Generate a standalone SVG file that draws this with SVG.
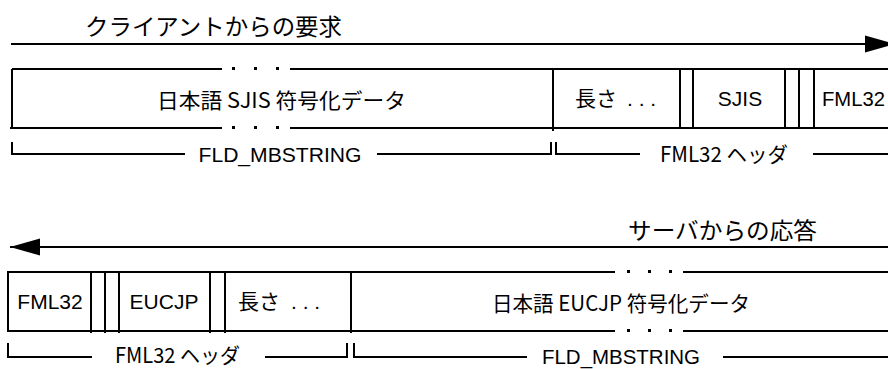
<svg xmlns="http://www.w3.org/2000/svg" width="888" height="369" viewBox="0 0 888 369">
<style>
.ln{stroke:#000;stroke-width:2;fill:none}
.dot{fill:#000}
.tt{font-family:"Noto Sans CJK JP",sans-serif;font-size:23px;fill:#000}
.a{font-family:"Liberation Sans","Noto Sans CJK JP",sans-serif;font-size:21px;fill:#000}
.j{font-family:"Noto Sans CJK JP",sans-serif;font-size:21px;fill:#000}
</style>
<defs>
<marker id="arr" markerUnits="userSpaceOnUse" markerWidth="30" markerHeight="18" refX="30" refY="9" orient="auto">
<path d="M0,0.5 L30,9 L0,17.5 z" fill="#000"/>
</marker>
</defs>

<g id="connectors">
<line class="ln" x1="11" y1="44" x2="895" y2="44" marker-end="url(#arr)"/>
<line class="ln" x1="888" y1="247" x2="10" y2="247" marker-end="url(#arr)"/>
</g>

<g id="title-request">
<text class="tt" x="85" y="35" textLength="257" lengthAdjust="spacingAndGlyphs">クライアントからの要求</text>
</g>
<g id="title-response">
<text class="tt" x="628" y="239" textLength="189" lengthAdjust="spacingAndGlyphs">サーバからの応答</text>
</g>

<g id="req-data">
<path class="ln" d="M10,128 H222 M290,128 H553 M12,69 H222 M290,69 H553 M12,69 V128"/>
<rect class="dot" x="232" y="67" width="3" height="3"/>
<rect class="dot" x="254" y="67" width="3" height="3"/>
<rect class="dot" x="276" y="67" width="3" height="3"/>
<rect class="dot" x="232" y="126" width="3" height="3"/>
<rect class="dot" x="254" y="126" width="3" height="3"/>
<rect class="dot" x="276" y="126" width="3" height="3"/>
<text class="j" x="157" y="108" textLength="249" lengthAdjust="spacingAndGlyphs">日本語 SJIS 符号化データ</text>
</g>
<g id="req-length">
<path class="ln" d="M553,69 V131 M553,69 H680 M553,128 H680"/>
<text class="a" x="575" y="106">長さ<tspan x="627">. . .</tspan></text>
</g>
<g id="req-sjis">
<path class="ln" d="M680,69 V129 M693,69 V129 M680,69 H785 M680,128 H785"/>
<text class="a" x="740" y="106" text-anchor="middle">SJIS</text>
</g>
<g id="req-fml32">
<path class="ln" d="M785,69 V129 M799,69 V129 M814,69 V129 M785,69 H888 M785,128 H888"/>
<text class="a" x="822" y="106" textLength="63" lengthAdjust="spacingAndGlyphs">FML32</text>
</g>
<g id="req-bracket-mbstring">
<path class="ln" d="M12,142 V154 H185 M377,154 H551 V142"/>
<text class="a" x="280" y="162" text-anchor="middle" textLength="163" lengthAdjust="spacingAndGlyphs">FLD_MBSTRING</text>
</g>
<g id="req-bracket-header">
<path class="ln" d="M556,142 V154 H640 M813,154 H888"/>
<text class="j" x="660" y="162" textLength="128" lengthAdjust="spacingAndGlyphs">FML32 ヘッダ</text>
</g>

<g id="res-fml32">
<path class="ln" d="M8,272 V331 M7,272 H91 M7,331 H91 M91,272 V333"/>
<text class="a" x="50" y="309" text-anchor="middle">FML32</text>
</g>
<g id="res-eucjp">
<path class="ln" d="M105,272 V333 M119,272 V333 M91,272 H210 M91,331 H210 M210,272 V333"/>
<text class="a" x="164" y="309" text-anchor="middle">EUCJP</text>
</g>
<g id="res-length">
<path class="ln" d="M225,272 V333 M210,272 H351 M210,331 H351 M351,272 V333"/>
<text class="a" x="238" y="309">長さ<tspan x="291">. . .</tspan></text>
</g>
<g id="res-data">
<path class="ln" d="M351,272 H615 M683,272 H888 M351,331 H615 M683,331 H888"/>
<rect class="dot" x="627" y="270" width="3" height="3"/>
<rect class="dot" x="648" y="270" width="3" height="3"/>
<rect class="dot" x="669" y="270" width="3" height="3"/>
<rect class="dot" x="627" y="329" width="3" height="3"/>
<rect class="dot" x="648" y="329" width="3" height="3"/>
<rect class="dot" x="669" y="329" width="3" height="3"/>
<text class="j" x="492" y="311" textLength="258" lengthAdjust="spacingAndGlyphs">日本語 EUCJP 符号化データ</text>
</g>
<g id="res-bracket-header">
<path class="ln" d="M8,343 V357 H92 M265,357 H347 V343"/>
<text class="j" x="115" y="363" textLength="125" lengthAdjust="spacingAndGlyphs">FML32 ヘッダ</text>
</g>
<g id="res-bracket-mbstring">
<path class="ln" d="M354,343 V357 H527 M723,357 H888"/>
<text class="a" x="621" y="364" text-anchor="middle" textLength="158" lengthAdjust="spacingAndGlyphs">FLD_MBSTRING</text>
</g>
</svg>
